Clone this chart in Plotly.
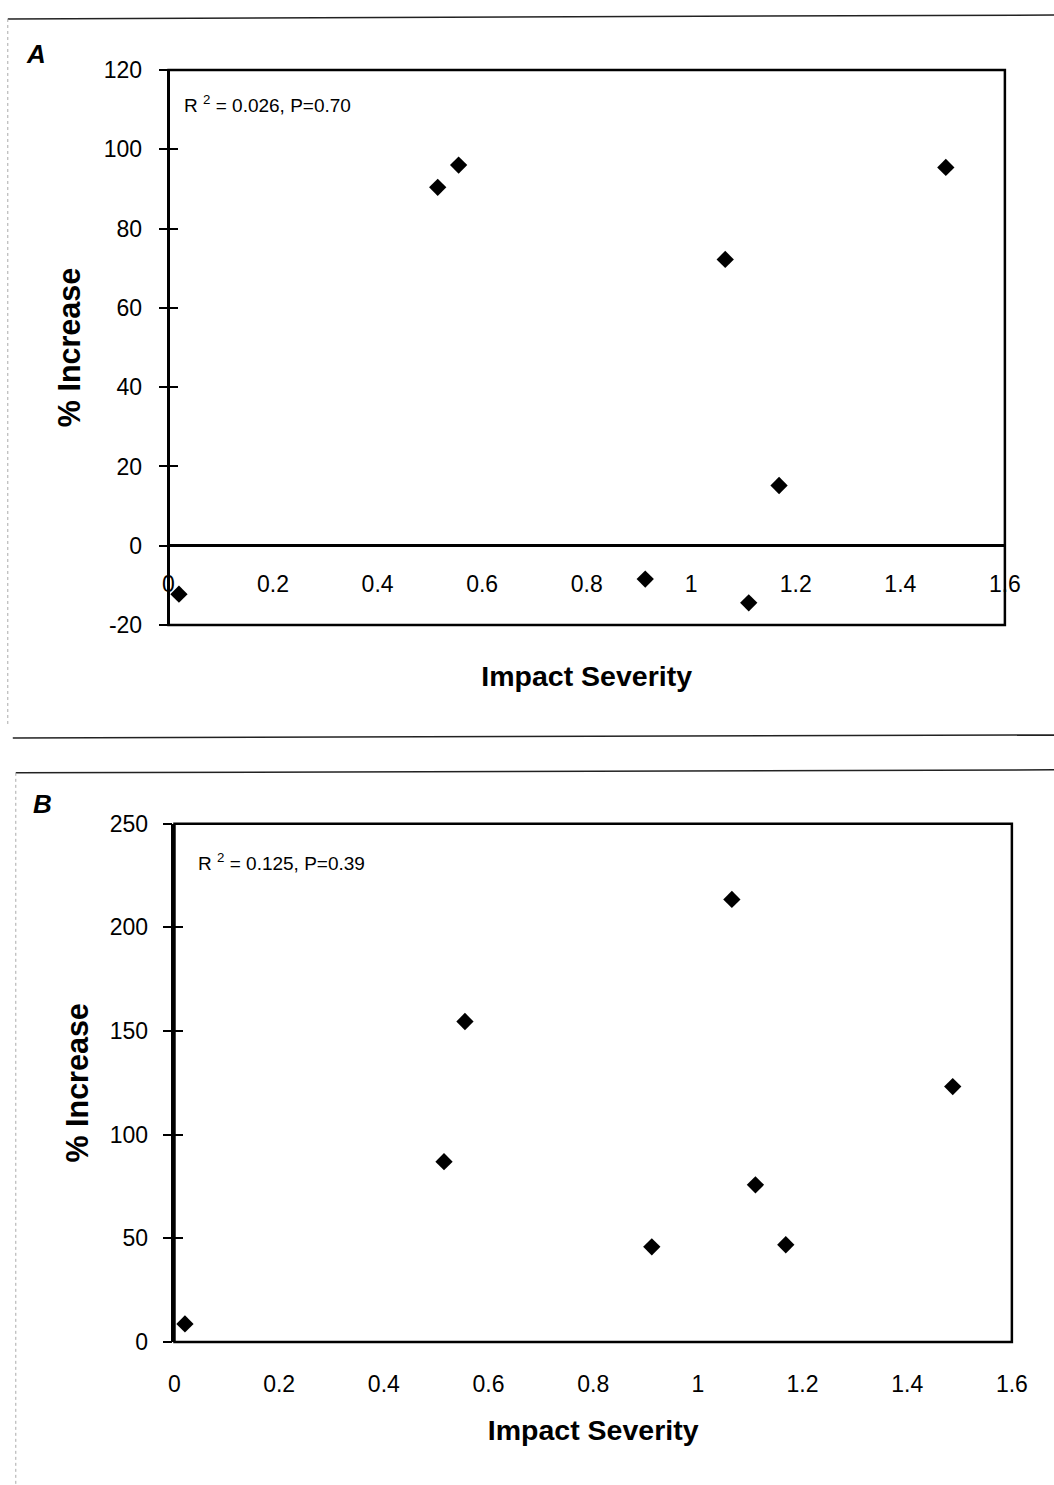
import plotly.graph_objects as go

# ---- data ----
impact_severity = [0.02, 0.515, 0.555, 0.912, 1.065, 1.11, 1.168, 1.487]
increase_a = [-12.2, 90.4, 96.0, -8.4, 72.2, -14.4, 15.2, 95.4]
increase_b = [8.7, 87.0, 154.6, 45.9, 213.5, 75.8, 46.9, 123.2]

x_tickvals = [0, 0.2, 0.4, 0.6, 0.8, 1.0, 1.2, 1.4, 1.6]
x_ticktext = ["0", "0.2", "0.4", "0.6", "0.8", "1", "1.2", "1.4", "1.6"]
ya_tickvals = [-20, 0, 20, 40, 60, 80, 100, 120]
ya_ticktext = ["-20", "0", "20", "40", "60", "80", "100", "120"]
yb_tickvals = [0, 50, 100, 150, 200, 250]

stats_a = "R <sup>2</sup> = 0.026, P=0.70"
stats_b = "R <sup>2</sup> = 0.125, P=0.39"
panel_a = "A"
panel_b = "B"
x_title = "Impact Severity"
y_title = "% Increase"

W, H = 1054, 1485
FONT = "Liberation Sans, Arial, sans-serif"

# layout placement helpers: page pixel position -> paper fraction
# (small calibration for how the page is captured)
SX, OX = 0.981, 5.2
SY, OY = 0.984, 11.0


def px(x):
    return ((x - OX) / SX) / W


def py(y):
    return 1 - ((y - OY) / SY) / H


fig = go.Figure()

marker = dict(symbol="diamond", size=13.3, color="black", line=dict(width=0))
fig.add_trace(go.Scatter(x=impact_severity, y=increase_a, mode="markers",
                         marker=marker, xaxis="x", yaxis="y", showlegend=False))
fig.add_trace(go.Scatter(x=impact_severity, y=increase_b, mode="markers",
                         marker=marker, xaxis="x2", yaxis="y2", showlegend=False))
# helper traces for inside tick marks (crossing ticks)
fig.add_trace(go.Scatter(x=[None], y=[None], xaxis="x", yaxis="y3", showlegend=False))
fig.add_trace(go.Scatter(x=[None], y=[None], xaxis="x2", yaxis="y4", showlegend=False))

xa_dom = [px(168), px(1006)]
ya_dom = [py(624), py(68)]
xb_dom = [px(174), px(1013)]
yb_dom = [py(1342), py(823)]

tickfont = dict(family=FONT, size=23, color="black")
titlefont = dict(family=FONT, size=28.5, color="black", weight="bold")
ytitlefont = dict(family=FONT, size=30.5, color="black", weight="bold")

common_x = dict(range=[0, 1.6], tickvals=x_tickvals, ticktext=x_ticktext,
                showgrid=False, zeroline=False, tickfont=tickfont, ticks="",
                showline=False)

fig.update_layout(
    width=W, height=H,
    margin=dict(l=0, r=0, t=0, b=0),
    paper_bgcolor="white", plot_bgcolor="white",
    font=dict(family=FONT, color="black"),
    xaxis=dict(domain=xa_dom, anchor="free", position=py(567), **common_x,
               title=dict(text=x_title, font=titlefont, standoff=69)),
    yaxis=dict(domain=ya_dom, anchor="free", position=xa_dom[0], range=[-20, 120],
               tickvals=ya_tickvals, ticktext=ya_ticktext, showgrid=False, zeroline=True,
               zerolinecolor="black", zerolinewidth=2.5,
               showline=True, linecolor="black", linewidth=2.5,
               ticks="outside", ticklen=9, tickwidth=2, tickcolor="black",
               ticklabelstandoff=12, tickfont=tickfont,
               title=dict(text=y_title, font=ytitlefont, standoff=13)),
    yaxis3=dict(overlaying="y", anchor="free", position=xa_dom[0], range=[-20, 120],
                tickvals=ya_tickvals, showgrid=False, zeroline=False,
                showticklabels=False, ticks="inside", ticklen=9, tickwidth=2,
                tickcolor="black", showline=False),
    xaxis2=dict(domain=xb_dom, anchor="y2", **common_x,
                ticklabelstandoff=26,
                title=dict(text=x_title, font=titlefont, standoff=24)),
    yaxis2=dict(domain=yb_dom, anchor="x2", range=[0, 250], tickvals=yb_tickvals,
                showgrid=False, zeroline=False,
                showline=True, linecolor="black", linewidth=2.5,
                ticks="outside", ticklen=9, tickwidth=2, tickcolor="black",
                ticklabelstandoff=10, tickfont=tickfont,
                title=dict(text=y_title, font=ytitlefont, standoff=13)),
    yaxis4=dict(overlaying="y2", anchor="x2", range=[0, 250], tickvals=yb_tickvals,
                showgrid=False, zeroline=False, showticklabels=False,
                ticks="inside", ticklen=9, tickwidth=2, tickcolor="black",
                showline=False),
)

shapes = []
# plot frames
shapes.append(dict(type="rect", xref="x domain", yref="y domain", x0=0, x1=1, y0=0, y1=1,
                   line=dict(color="black", width=2.5)))
shapes.append(dict(type="rect", xref="x2 domain", yref="y2 domain", x0=0, x1=1, y0=0, y1=1,
                   line=dict(color="black", width=2.5)))
# page separator / border lines of the scanned figure
shapes.append(dict(type="line", xref="paper", yref="paper", x0=px(7), x1=px(1056), y0=py(17), y1=py(13),
                   line=dict(color="#222", width=1.5)))
shapes.append(dict(type="line", xref="paper", yref="paper", x0=px(7), x1=px(7), y0=py(17), y1=py(725),
                   line=dict(color="#aaa", width=1, dash="dot")))
shapes.append(dict(type="line", xref="paper", yref="paper", x0=px(12), x1=px(1056), y0=py(737), y1=py(734),
                   line=dict(color="#222", width=1.5)))
shapes.append(dict(type="line", xref="paper", yref="paper", x0=px(15), x1=px(1056), y0=py(772), y1=py(769),
                   line=dict(color="#222", width=1.5)))
shapes.append(dict(type="line", xref="paper", yref="paper", x0=px(15), x1=px(15), y0=py(772), y1=py(1487),
                   line=dict(color="#aaa", width=1, dash="dot")))
fig.update_layout(shapes=shapes)

annotations = [
    dict(text=stats_a, xref="paper", yref="paper", x=px(182), y=py(102), xanchor="left",
         yanchor="middle", showarrow=False, font=dict(family=FONT, size=19, color="black")),
    dict(text=stats_b, xref="paper", yref="paper", x=px(196), y=py(861), xanchor="left",
         yanchor="middle", showarrow=False, font=dict(family=FONT, size=19, color="black")),
    dict(text="<b><i>" + panel_a + "</i></b>", xref="paper", yref="paper", x=px(35), y=py(52),
         xanchor="center", yanchor="middle", showarrow=False,
         font=dict(family=FONT, size=26, color="black")),
    dict(text="<b><i>" + panel_b + "</i></b>", xref="paper", yref="paper", x=px(42), y=py(803),
         xanchor="center", yanchor="middle", showarrow=False,
         font=dict(family=FONT, size=26, color="black")),
]
fig.update_layout(annotations=annotations)

fig.write_html("out.html")
